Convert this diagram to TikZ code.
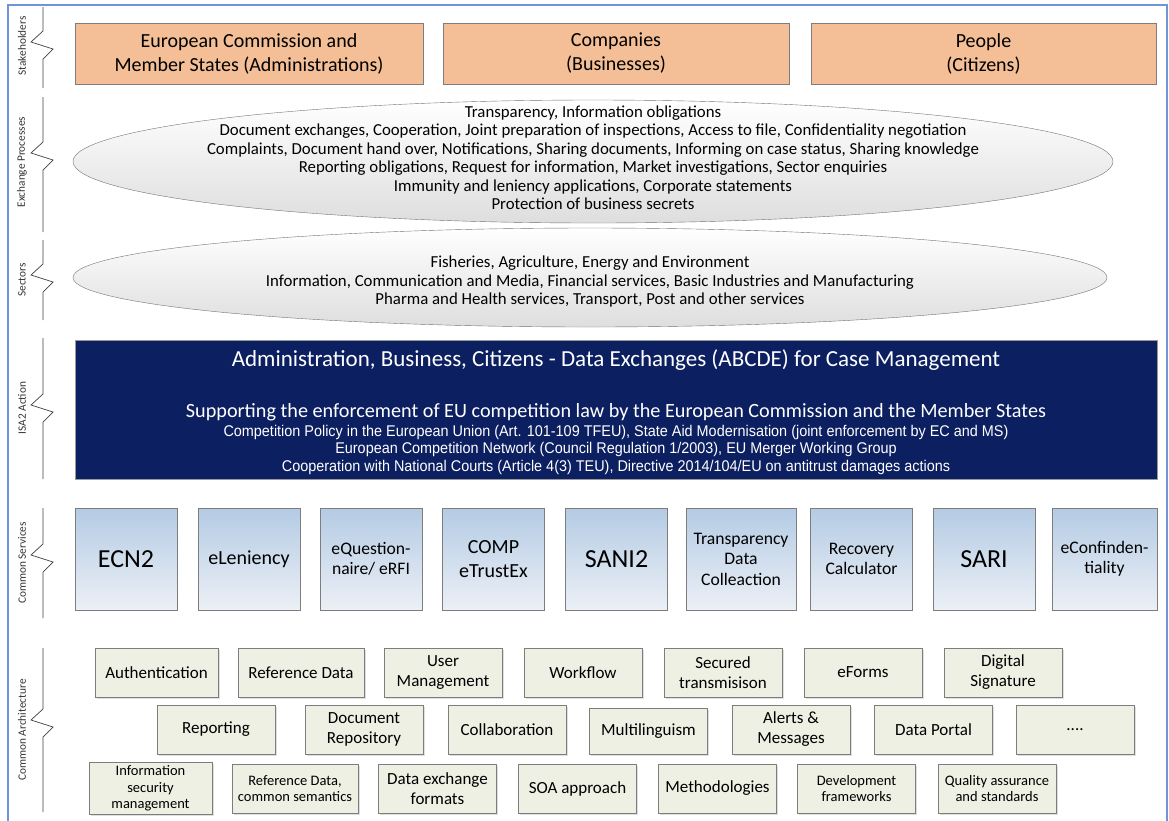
\documentclass[tikz,border=0pt]{standalone}
\usepackage{fontspec}
\setmainfont{Carlito}
\newfontfamily\arialfont[FakeStretch=0.93]{Liberation Sans}
\usepackage{tikz}
\usetikzlibrary{shapes.geometric,shadows}

\definecolor{framecol}{RGB}{110,150,215}
\definecolor{stakefill}{RGB}{244,191,150}
\definecolor{actionfill}{RGB}{12,31,96}
\definecolor{servtop}{RGB}{180,203,228}
\definecolor{servbot}{RGB}{236,240,246}
\definecolor{archfill}{RGB}{237,240,227}
\definecolor{boxline}{RGB}{125,125,125}

\tikzset{
  bandline/.style={draw=black!75, line width=0.7pt},
  bandlabel/.style={rotate=90, text=black!80, font=\fontsize{11.3}{13}\selectfont},
  stakebox/.style={shape=rectangle, draw=boxline, fill=stakefill, minimum height=61pt, align=center, font=\fontsize{20}{24}\selectfont},
  procshape/.style={shape=ellipse, draw=black!55, top color=white, bottom color=black!13, inner sep=0pt},
  proctext/.style={align=center, font=\fontsize{16.8}{18.5}\selectfont},
  actionbox/.style={shape=rectangle, draw=black!40, fill=actionfill, minimum width=1082pt, minimum height=139pt},
  acttitle/.style={text=white, font=\fontsize{23}{26}\selectfont},
  actsub/.style={text=white, font=\fontsize{20.2}{23}\selectfont},
  acttext/.style={text=white, align=center, font=\arialfont\fontsize{15.5}{17.5}\selectfont},
  servicebox/.style={shape=rectangle, draw=boxline, top color=servtop, bottom color=servbot, minimum width=102pt, minimum height=102pt, align=center, font=\fontsize{17.6}{20.5}\selectfont},
  archbox/.style={shape=rectangle, draw=boxline, fill=archfill, minimum width=118pt, minimum height=49pt, align=center, font=\fontsize{17}{20}\selectfont, drop shadow={opacity=0.25, shadow xshift=1.5pt, shadow yshift=-1.5pt}},
  smallarch/.style={font=\fontsize{14.5}{16.5}\selectfont},
}

\begin{document}
\begin{tikzpicture}[x=1pt, y=-1pt]
    \useasboundingbox (0,0) rectangle (1169,820);
    % frame
    \draw[framecol, line width=1.5pt] (8,825) -- (8,5) -- (1167,5) -- (1167,825);

    % bands at the left
    \draw[bandline] (43,7) -- (43,31) -- (31,42) -- (53,49) -- (43,59) -- (43,88);
    \node[bandlabel] at (22,46) (lstake) {Stakeholders};
    \draw[bandline] (43,97) -- (43,142) -- (31,153) -- (53,160) -- (43,170) -- (43,232);
    \node[bandlabel] at (22,162) (lexch) {Exchange Processes};
    \draw[bandline] (43,240) -- (43,264) -- (31,275) -- (53,282) -- (43,292) -- (43,320);
    \node[bandlabel] at (22,280) (lsect) {Sectors};
    \draw[bandline] (43,338) -- (43,394) -- (31,405) -- (53,412) -- (43,422) -- (43,479);
    \node[bandlabel] at (22,408) (lisa) {ISA2 Action};
    \draw[bandline] (43,508) -- (43,544) -- (31,555) -- (53,562) -- (43,572) -- (43,618);
    \node[bandlabel] at (22,563) (lserv) {Common Services};
    \draw[bandline] (43,648) -- (43,709) -- (31,720) -- (53,727) -- (43,737) -- (43,812);
    \node[bandlabel] at (22,730) (larch) {Common Architecture};

    % stakeholders
    \node[stakebox, minimum width=348pt] at (249,53.5) (admin) {European Commission and\\Member States (Administrations)};
    \node[stakebox, minimum width=346pt] at (616,53.5) (business) {Companies\\(Businesses)};
    \node[stakebox, minimum width=345pt] at (983.5,53.5) (citizens) {People\\(Citizens)};

    % exchange processes and sectors
    \node[procshape, minimum width=1040pt, minimum height=123pt] at (593,161.5) (exch) {};
    \node[proctext] at (593,157.5) (exchtext) {Transparency, Information obligations\\
        Document exchanges, Cooperation, Joint preparation of inspections, Access to file, Confidentiality negotiation\\
        Complaints, Document hand over, Notifications, Sharing documents, Informing on case status, Sharing knowledge\\
        Reporting obligations, Request for information, Market investigations, Sector enquiries\\
        Immunity and leniency applications, Corporate statements\\
        Protection of business secrets};
    \node[procshape, minimum width=1034pt, minimum height=99pt] at (590,277.5) (sect) {};
    \node[proctext] at (590,282) (secttext) {Fisheries, Agriculture, Energy and Environment\\
        Information, Communication and Media, Financial services, Basic Industries and Manufacturing\\
        Pharma and Health services, Transport, Post and other services};

    % ISA2 action
    \node[actionbox] at (616,409.5) (action) {};
    \node[acttitle] at (616,360) (acttitle) {Administration, Business, Citizens - Data Exchanges (ABCDE) for Case Management};
    \node[actsub] at (616,412) (actsub) {Supporting the enforcement of EU competition law by the European Commission and the Member States};
    \node[acttext] at (616,449.5) (actbody) {Competition Policy in the European Union (Art. 101-109 TFEU), State Aid Modernisation (joint enforcement by EC and MS)\\
        European Competition Network (Council Regulation 1/2003), EU Merger Working Group\\
        Cooperation with National Courts (Article 4(3) TEU), Directive 2014/104/EU on antitrust damages actions};

    % common services
    \node[servicebox, font=\fontsize{26}{30}\selectfont] at (126,559) (ecn) {ECN2};
    \node[servicebox, font=\fontsize{20}{24}\selectfont] at (249,559) (eleniency) {eLeniency};
    \node[servicebox] at (371,559) (equest) {eQuestion-\\naire/ eRFI};
    \node[servicebox, font=\fontsize{20}{24}\selectfont] at (493.5,559) (etrustex) {COMP\\eTrustEx};
    \node[servicebox, font=\fontsize{26}{30}\selectfont] at (616.5,559) (sani) {SANI2};
    \node[servicebox, minimum width=110pt] at (741,559) (transp) {Transparency\\Data\\Colleaction};
    \node[servicebox] at (861.5,559) (recovery) {Recovery\\Calculator};
    \node[servicebox, font=\fontsize{26}{30}\selectfont] at (984,559) (sari) {SARI};
    \node[servicebox, minimum width=105pt] at (1104.5,559) (econf) {eConfinden-\\tiality};

    % common architecture, first row
    \node[archbox, minimum width=123pt] at (156.5,672.5) (authent) {Authentication};
    \node[archbox, minimum width=126pt] at (301,672.5) (refdata) {Reference Data};
    \node[archbox] at (443,672.5) (usermgmt) {User\\Management};
    \node[archbox] at (583,672.5) (workflow) {Workflow};
    \node[archbox] at (723,672.5) (secured) {Secured\\transmisison};
    \node[archbox] at (863,672.5) (eforms) {eForms};
    \node[archbox] at (1003,672.5) (digsign) {Digital\\Signature};
    % second row
    \node[archbox] at (216,729.5) (reporting) {Reporting};
    \node[archbox] at (364,729.5) (docrepo) {Document\\Repository};
    \node[archbox] at (507,729.5) (collab) {Collaboration};
    \node[archbox, minimum height=46pt] at (648.5,731) (multiling) {Multilinguism};
    \node[archbox] at (791,729.5) (alerts) {Alerts \&\\Messages};
    \node[archbox] at (933.5,729.5) (dataportal) {Data Portal};
    \node[archbox] at (1075,729.5) (more) {....};
    % third row
    \node[archbox, smallarch, minimum width=123pt] at (150.5,788.5) (infosec) {Information\\security\\management};
    \node[archbox, smallarch, minimum width=126pt] at (295,788.5) (semantics) {Reference Data,\\common semantics};
    \node[archbox] at (437.5,788.5) (formats) {Data exchange\\formats};
    \node[archbox] at (577.5,788.5) (soa) {SOA approach};
    \node[archbox] at (717.5,788.5) (method) {Methodologies};
    \node[archbox, smallarch] at (856.5,788.5) (devframe) {Development\\frameworks};
    \node[archbox, smallarch] at (997,788.5) (quality) {Quality assurance\\and standards};
\end{tikzpicture}
\end{document}
